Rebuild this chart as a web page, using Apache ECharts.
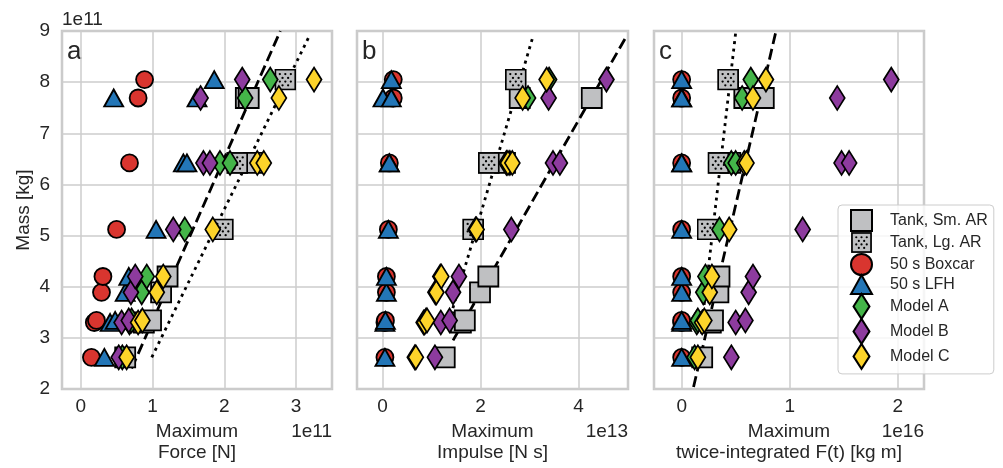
<!DOCTYPE html>
<html>
<head>
<meta charset="utf-8">
<script src="https://cdn.jsdelivr.net/npm/echarts@6/dist/echarts.min.js"></script>
<style>
html,body{margin:0;padding:0;background:#fff;}
#chart{width:1003px;height:468px;}
</style>
</head>
<body>
<div id="chart"></div>
<script>
// ---------------- data (x values in units of the axis offset: 1e11 N, 1e13 N s, 1e16 kg m; mass in 1e11 kg) -------------
const xTicksForce = [0, 1, 2, 3];
const xTicksImpulse = [0, 2, 4];
const xTicksDisp = [0, 1, 2];
const yTicksMass = [2, 3, 4, 5, 6, 7, 8, 9];

const massSmAR    = [2.62, 3.30, 3.34, 3.89, 4.20, 6.42, 7.69, 7.69];
const forceSmAR   = [0.62, 0.88, 0.98, 1.12, 1.21, 2.41, 2.30, 2.34];
const impulseSmAR = [1.27, 1.60, 1.68, 1.99, 2.16, 2.50, 2.80, 4.27];
const dispSmAR    = [0.19, 0.27, 0.29, 0.34, 0.35, 0.45, 0.58, 0.76];

const massLgAR    = [5.12, 6.42, 8.05];
const forceLgAR   = [1.98, 2.18, 2.85];
const impulseLgAR = [1.85, 2.17, 2.72];
const dispLgAR    = [0.24, 0.34, 0.43];

const massBoxcar    = [2.62, 3.30, 3.34, 3.89, 4.20, 5.12, 6.42, 7.69, 8.05];
const forceBoxcar   = [0.15, 0.19, 0.22, 0.29, 0.31, 0.50, 0.68, 0.80, 0.89];
const impulseBoxcar = [0.05, 0.05, 0.06, 0.08, 0.08, 0.12, 0.14, 0.22, 0.22];
const dispBoxcar    = [0.00, 0.00, 0.00, 0.00, 0.00, 0.00, 0.00, 0.00, 0.00];

const massLFH    = [2.62, 3.30, 3.34, 3.89, 4.20, 5.12, 6.42, 6.42, 7.69, 7.69, 8.05];
const forceLFH   = [0.33, 0.41, 0.48, 0.62, 0.67, 1.05, 1.43, 1.48, 0.46, 1.62, 1.86];
const impulseLFH = [0.05, 0.05, 0.06, 0.08, 0.08, 0.12, 0.14, 0.14, 0.01, 0.18, 0.18];
const dispLFH    = [0.00, 0.00, 0.00, 0.00, 0.00, 0.00, 0.00, 0.00, 0.00, 0.00, 0.00];

const massModel = [2.62, 3.30, 3.34, 3.89, 4.20, 5.12, 6.42, 6.42, 7.69, 8.05];
const forceA   = [0.58, 0.68, 0.71, 0.85, 0.92, 1.45, 1.94, 2.08, 2.29, 2.64];
const impulseA = [0.66, 0.84, 0.89, 1.08, 1.18, 1.90, 2.53, 2.60, 2.97, 3.40];
const dispA    = [0.12, 0.14, 0.15, 0.20, 0.22, 0.35, 0.46, 0.50, 0.56, 0.64];
const forceB   = [0.53, 0.57, 0.67, 0.70, 0.76, 1.29, 1.71, 1.80, 1.67, 2.25];
const impulseB = [1.07, 1.19, 1.37, 1.44, 1.56, 2.63, 3.48, 3.62, 3.39, 4.57];
const dispB    = [0.46, 0.50, 0.59, 0.62, 0.66, 1.12, 1.48, 1.55, 1.44, 1.94];
const forceC   = [0.64, 0.80, 0.86, 1.06, 1.15, 1.84, 2.46, 2.55, 2.76, 3.25];
const impulseC = [0.68, 0.86, 0.91, 1.10, 1.20, 1.92, 2.56, 2.65, 2.86, 3.35];
const dispC    = [0.15, 0.19, 0.21, 0.26, 0.28, 0.44, 0.58, 0.60, 0.66, 0.78];

// fit lines: [x, mass] end points
const fitForceDashed   = [[0.71, 2.40], [2.78, 9.00]];
const fitForceDotted   = [[0.99, 2.62], [3.19, 8.92]];
const fitImpulseDashed = [[1.44, 2.95], [4.98, 8.90]];
const fitImpulseDotted = [[1.35, 3.30], [3.07, 8.89]];
const fitDispDashed    = [[0.11, 2.04], [0.87, 8.97]];
const fitDispDotted    = [[0.20, 3.50], [0.50, 8.97]];

const seriesNames = ['Tank, Sm. AR', 'Tank, Lg. AR', '50 s Boxcar', '50 s LFH', 'Model A', 'Model B', 'Model C'];
const panelLetters = ['a', 'b', 'c'];
const xNames = ['Maximum\nForce [N]', 'Maximum\nImpulse [N s]', 'Maximum\ntwice-integrated F(t) [kg m]'];
const xOffsets = ['1e11', '1e13', '1e16'];
const yOffset = '1e11';
const yName = 'Mass [kg]';

// ---------------- styling -------------
const FONT = '"Liberation Sans", Arial, sans-serif';
const TXT = '#262626';
const GRIDC = '#cccccc';
const grids = [
  {left: 62, top: 31, width: 270, height: 359},
  {left: 357, top: 31, width: 271, height: 359},
  {left: 654, top: 31, width: 270, height: 359}
];
const xRanges = [[-0.26, 3.5], [-0.52, 5.01], [-0.256, 2.243]];
const xSplit = [4, 3, 2];

const stippleSvg = '<svg xmlns="http://www.w3.org/2000/svg" width="66" height="66" viewBox="0 0 22 22">' +
  '<rect x="1" y="1" width="20" height="20" fill="#bfc0c2" stroke="#000" stroke-width="1.8"/>' +
  '<g fill="#000">' +
  '<circle cx="5.5" cy="5.5" r="1.15"/><circle cx="11" cy="5.5" r="1.15"/><circle cx="16.5" cy="5.5" r="1.15"/>' +
  '<circle cx="8.2" cy="9.3" r="1.15"/><circle cx="13.8" cy="9.3" r="1.15"/>' +
  '<circle cx="5.5" cy="13" r="1.15"/><circle cx="11" cy="13" r="1.15"/><circle cx="16.5" cy="13" r="1.15"/>' +
  '<circle cx="8.2" cy="16.7" r="1.15"/><circle cx="13.8" cy="16.7" r="1.15"/>' +
  '</g></svg>';
const stippleImg = 'image://data:image/svg+xml;charset=utf-8,' + encodeURIComponent(stippleSvg);
const diamondPath = 'path://M8,0L16,12.5L8,25L0,12.5Z';
const squarePath = 'path://M0,0H20V20H0Z';
const trianglePath = 'path://M10,0L20,18L0,18Z';

const styles = {
  'Tank, Sm. AR': {symbol: 'rect', size: 20, color: '#bfc0c2', icon: squarePath},
  'Tank, Lg. AR': {symbol: stippleImg, size: 22, color: '#bfc0c2', icon: stippleImg, noBorder: true},
  '50 s Boxcar': {symbol: 'circle', size: 17, color: '#d9352f', icon: 'circle'},
  '50 s LFH': {symbol: 'triangle', size: [19, 17], color: '#2376b7', icon: trianglePath},
  'Model A': {symbol: diamondPath, size: [15, 24], color: '#44b549', icon: diamondPath},
  'Model B': {symbol: diamondPath, size: [15, 24], color: '#8d3b9e', icon: diamondPath},
  'Model C': {symbol: diamondPath, size: [15, 24], color: '#fdd42a', icon: diamondPath}
};

const panelData = [
  {
    'Tank, Sm. AR': [forceSmAR, massSmAR], 'Tank, Lg. AR': [forceLgAR, massLgAR],
    '50 s Boxcar': [forceBoxcar, massBoxcar], '50 s LFH': [forceLFH, massLFH],
    'Model A': [forceA, massModel], 'Model B': [forceB, massModel], 'Model C': [forceC, massModel],
    dashed: fitForceDashed, dotted: fitForceDotted
  },
  {
    'Tank, Sm. AR': [impulseSmAR, massSmAR], 'Tank, Lg. AR': [impulseLgAR, massLgAR],
    '50 s Boxcar': [impulseBoxcar, massBoxcar], '50 s LFH': [impulseLFH, massLFH],
    'Model A': [impulseA, massModel], 'Model B': [impulseB, massModel], 'Model C': [impulseC, massModel],
    dashed: fitImpulseDashed, dotted: fitImpulseDotted
  },
  {
    'Tank, Sm. AR': [dispSmAR, massSmAR], 'Tank, Lg. AR': [dispLgAR, massLgAR],
    '50 s Boxcar': [dispBoxcar, massBoxcar], '50 s LFH': [dispLFH, massLFH],
    'Model A': [dispA, massModel], 'Model B': [dispB, massModel], 'Model C': [dispC, massModel],
    dashed: fitDispDashed, dotted: fitDispDotted
  }
];

function pts(xs, ys) { return xs.map((x, i) => [x, ys[i]]); }
function intLabel(v) { return Math.abs(v - Math.round(v)) < 1e-6 ? String(Math.round(v)) : ''; }

const xAxes = [], yAxes = [], series = [], graphics = [];
grids.forEach((g, i) => {
  xAxes.push({
    type: 'value', gridIndex: i, min: xRanges[i][0], max: xRanges[i][1], splitNumber: xSplit[i],
    axisLine: {show: false}, axisTick: {show: false},
    axisLabel: {fontSize: 19, color: TXT, fontFamily: FONT, margin: 8, formatter: intLabel, showMinLabel: false, showMaxLabel: false},
    splitLine: {show: true, lineStyle: {color: GRIDC, width: 1.5}},
    name: xNames[i], nameLocation: 'middle', nameGap: 32,
    nameTextStyle: {fontSize: 19, color: TXT, fontFamily: FONT, lineHeight: 21, align: 'center'}
  });
  yAxes.push({
    type: 'value', gridIndex: i, min: 2, max: 9, interval: 1,
    axisLine: {show: false}, axisTick: {show: false},
    axisLabel: {show: i === 0, fontSize: 19, color: TXT, fontFamily: FONT, margin: 12},
    splitLine: {show: true, lineStyle: {color: GRIDC, width: 1.5}},
    name: i === 0 ? yName : '', nameLocation: 'middle', nameGap: 29,
    nameTextStyle: {fontSize: 19, color: TXT, fontFamily: FONT}
  });
  const pd = panelData[i];
  series.push({
    type: 'line', name: 'fit dashed ' + i, xAxisIndex: i, yAxisIndex: i, data: pd.dashed,
    symbol: 'none', silent: true, z: 1,
    lineStyle: {color: '#000', width: 2.8, type: [11, 5], cap: 'butt'}
  });
  series.push({
    type: 'line', name: 'fit dotted ' + i, xAxisIndex: i, yAxisIndex: i, data: pd.dotted,
    symbol: 'none', silent: true, z: 1,
    lineStyle: {color: '#000', width: 2.8, type: [3, 4.5], cap: 'butt'}
  });
  seriesNames.forEach(n => {
    const s = styles[n];
    series.push({
      type: 'scatter', name: n, xAxisIndex: i, yAxisIndex: i,
      data: pts(pd[n][0], pd[n][1]),
      symbol: s.symbol, symbolSize: s.size, z: 2,
      itemStyle: s.noBorder ? {color: s.color, opacity: 1} : {color: s.color, borderColor: '#000', borderWidth: 1.8, opacity: 1}
    });
  });
  graphics.push({
    type: 'text', left: g.left + 5, top: 39,
    style: {text: panelLetters[i], font: '26px ' + FONT, fill: TXT}
  });
  graphics.push({
    type: 'text', right: 1003 - (g.left + g.width), top: 422,
    style: {text: xOffsets[i], font: '19px ' + FONT, fill: TXT}
  });
});
graphics.push({
  type: 'text', left: 62, top: 10,
  style: {text: yOffset, font: '19px ' + FONT, fill: TXT}
});

const option = {
  animation: false,
  backgroundColor: '#fff',
  textStyle: {fontFamily: FONT},
  grid: grids.map(g => Object.assign({show: true, borderColor: '#c8c8c8', borderWidth: 2.5, backgroundColor: 'transparent'}, g)),
  xAxis: xAxes,
  yAxis: yAxes,
  legend: {
    data: seriesNames.map(n => ({name: n, icon: styles[n].icon})),
    orient: 'vertical', left: 838, top: 205,
    itemWidth: 21, itemHeight: 25, itemGap: -2,
    padding: [4, 6, 4, 12],
    backgroundColor: 'rgba(255,255,255,0.8)', borderColor: '#cccccc', borderWidth: 1, borderRadius: 4,
    selectedMode: false,
    textStyle: {fontSize: 16, color: TXT, fontFamily: FONT, padding: [0, 0, 0, 13]}
  },
  graphic: graphics,
  series: series
};

const chart = echarts.init(document.getElementById('chart'), null, {renderer: 'canvas'});
chart.setOption(option);
</script>
</body>
</html>
